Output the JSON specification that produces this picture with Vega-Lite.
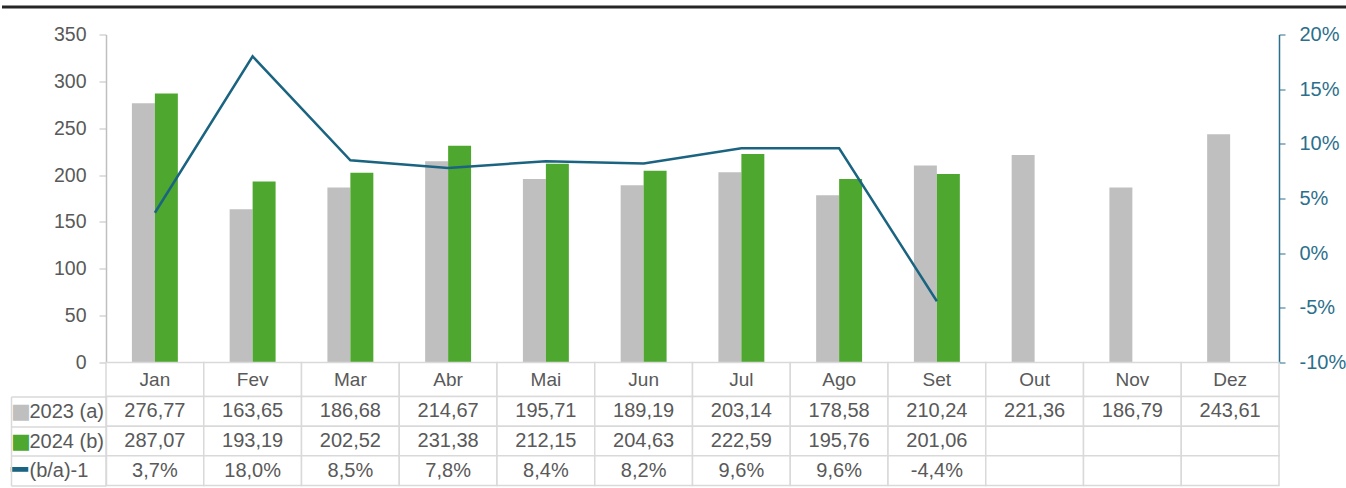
{
  "$schema": "https://vega.github.io/schema/vega-lite/v6.json",
  "padding": {"top": 4.5, "left": 0, "right": 0, "bottom": 0},
  "spacing": 0,
  "bounds": "flush",
  "datasets": {
    "months": [
      {"m": 1, "month": "Jan", "a": 276.77, "b": 287.07, "pct": 0.037},
      {"m": 2, "month": "Fev", "a": 163.65, "b": 193.19, "pct": 0.180},
      {"m": 3, "month": "Mar", "a": 186.68, "b": 202.52, "pct": 0.085},
      {"m": 4, "month": "Abr", "a": 214.67, "b": 231.38, "pct": 0.078},
      {"m": 5, "month": "Mai", "a": 195.71, "b": 212.15, "pct": 0.084},
      {"m": 6, "month": "Jun", "a": 189.19, "b": 204.63, "pct": 0.082},
      {"m": 7, "month": "Jul", "a": 203.14, "b": 222.59, "pct": 0.096},
      {"m": 8, "month": "Ago", "a": 178.58, "b": 195.76, "pct": 0.096},
      {"m": 9, "month": "Set", "a": 210.24, "b": 201.06, "pct": -0.044},
      {"m": 10, "month": "Out", "a": 221.36, "b": null, "pct": null},
      {"m": 11, "month": "Nov", "a": 186.79, "b": null, "pct": null},
      {"m": 12, "month": "Dez", "a": 243.61, "b": null, "pct": null}
    ]
  },
  "vconcat": [
    {
      "width": 1173,
      "height": 328,
      "layer": [
        {
          "data": {"name": "months"},
          "transform": [{"fold": ["a", "b"], "as": ["series", "value"]}],
          "mark": {"type": "bar"},
          "encoding": {
            "x": {"field": "month", "type": "nominal", "scale": {"domain": ["Jan","Fev","Mar","Abr","Mai","Jun","Jul","Ago","Set","Out","Nov","Dez"], "paddingInner": 0.53, "paddingOuter": 0.265}, "axis": null},
            "xOffset": {"field": "series", "type": "nominal", "scale": {"domain": ["a", "b"], "paddingInner": 0}},
            "y": {"field": "value", "type": "quantitative", "scale": {"domain": [0, 350], "nice": false},
              "axis": {"values": [0, 50, 100, 150, 200, 250, 300, 350], "title": null, "grid": false, "domainColor": "#bfbfbf", "domainWidth": 1.5, "tickColor": "#bfbfbf", "tickSize": 7, "labelPadding": 13, "labelColor": "#595959", "labelFontSize": 19.5, "labelFont": "Liberation Sans"}},
            "color": {"field": "series", "type": "nominal", "scale": {"domain": ["a", "b"], "range": ["#bfbfbf", "#4ea72e"]}, "legend": null}
          }
        },
        {
          "data": {"name": "months"},
          "transform": [{"filter": "datum.pct != null"}],
          "mark": {"type": "line", "color": "#1b6481", "strokeWidth": 2.5},
          "encoding": {
            "x": {"field": "month", "type": "nominal", "scale": {"type": "point", "padding": 0.5, "domain": ["Jan","Fev","Mar","Abr","Mai","Jun","Jul","Ago","Set","Out","Nov","Dez"]}, "axis": null},
            "y": {"field": "pct", "type": "quantitative", "scale": {"domain": [-0.1, 0.2], "nice": false},
              "axis": {"orient": "right", "values": [-0.1, -0.05, 0, 0.05, 0.1, 0.15, 0.2], "format": ".0%", "title": null, "grid": false, "domainColor": "#2b6f8c", "domainWidth": 1.5, "tickColor": "#2b6f8c", "tickSize": 6, "labelPadding": 14, "labelColor": "#2b6f8c", "labelFontSize": 20, "labelFont": "Liberation Sans"}},
            "order": {"field": "m", "type": "quantitative"}
          }
        },
        {
          "data": {"values": [{}]},
          "mark": {"type": "rule", "color": "#262626", "strokeWidth": 3},
          "encoding": {
            "x": {"datum": 0, "type": "quantitative", "scale": {"domain": [0.07681, 0.94313]}, "axis": null},
            "x2": {"datum": 1},
            "y": {"datum": 1, "type": "quantitative", "scale": {"domain": [0, 0.92264]}, "axis": null}
          }
        }
      ],
      "resolve": {"scale": {"x": "independent", "y": "independent"}, "axis": {"x": "independent", "y": "independent"}}
    },
    {
      "width": 1173,
      "height": 34,
      "data": {"name": "months"},
      "layer": [
        {
          "mark": {"type": "rect", "fill": "white", "stroke": "#d9d9d9", "strokeWidth": 1.5},
          "encoding": {
            "x": {"field": "month", "type": "nominal", "scale": {"domain": ["Jan","Fev","Mar","Abr","Mai","Jun","Jul","Ago","Set","Out","Nov","Dez"], "paddingInner": 0, "paddingOuter": 0}, "axis": null}
          }
        },
        {
          "mark": {"type": "text", "fontSize": 19, "color": "#595959", "font": "Liberation Sans"},
          "encoding": {
            "x": {"field": "month", "type": "nominal", "axis": null},
            "text": {"field": "month", "type": "nominal"}
          }
        }
      ]
    },
    {
      "width": 1173,
      "height": 89,
      "layer": [
        {
          "data": {"name": "months"},
          "layer": [
            {
              "transform": [{"fold": ["a", "b", "pct"], "as": ["key", "val"]}],
              "mark": {"type": "rect", "fill": "white", "stroke": "#d9d9d9", "strokeWidth": 1.5},
              "encoding": {
                "x": {"field": "month", "type": "nominal", "scale": {"domain": ["Jan","Fev","Mar","Abr","Mai","Jun","Jul","Ago","Set","Out","Nov","Dez"], "paddingInner": 0, "paddingOuter": 0}, "axis": null},
                "y": {"field": "key", "type": "nominal", "scale": {"domain": ["a", "b", "pct"], "paddingInner": 0, "paddingOuter": 0},
                  "axis": {"title": null, "labelExpr": "datum.value == 'a' ? '2023 (a)' : datum.value == 'b' ? '2024 (b)' : datum.value == 'pct' ? '(b/a)-1' : ''", "labelAlign": "left", "labelPadding": -18, "tickSize": 95, "tickBand": "extent", "tickColor": "#d9d9d9", "tickWidth": 1.5, "domainColor": "#d9d9d9", "domainWidth": 1.5, "labelFontSize": 20, "labelColor": "#595959", "labelFont": "Liberation Sans"}}
              }
            },
            {
              "mark": {"type": "text", "fontSize": 20, "color": "#595959", "font": "Liberation Sans"},
              "encoding": {
                "x": {"field": "month", "type": "nominal"},
                "y": {"datum": "a", "type": "nominal"},
                "text": {"field": "a", "type": "quantitative", "format": ".2f"}
              }
            },
            {
              "transform": [{"filter": "datum.b != null"}],
              "mark": {"type": "text", "fontSize": 20, "color": "#595959", "font": "Liberation Sans"},
              "encoding": {
                "x": {"field": "month", "type": "nominal"},
                "y": {"datum": "b", "type": "nominal"},
                "text": {"field": "b", "type": "quantitative", "format": ".2f"}
              }
            },
            {
              "transform": [{"filter": "datum.pct != null"}],
              "mark": {"type": "text", "fontSize": 20, "color": "#595959", "font": "Liberation Sans"},
              "encoding": {
                "x": {"field": "month", "type": "nominal"},
                "y": {"datum": "pct", "type": "nominal"},
                "text": {"field": "pct", "type": "quantitative", "format": ".1%"}
              }
            }
          ]
        },
        {
          "data": {"values": [{"key": "a"}, {"key": "b"}, {"key": "pct"}]},
          "mark": {"type": "point", "opacity": 0},
          "encoding": {
            "y": {"field": "key", "type": "nominal", "scale": {"domain": ["a", "b", "pct"], "paddingInner": 0, "paddingOuter": 0},
              "axis": {"orient": "left", "offset": 95, "title": null, "ticks": false, "labelExpr": "datum.value == 'pct' ? '━' : '■'", "labelAlign": "left", "labelPadding": 0.5, "labelFont": "DejaVu Sans",
                "labelFontSize": {"condition": {"test": "datum.value == 'pct'", "value": 28}, "value": 21},
                "labelColor": {"condition": [{"test": "datum.value == 'a'", "value": "#bfbfbf"}, {"test": "datum.value == 'b'", "value": "#4ea72e"}], "value": "#1b6481"},
                "domainColor": "#d9d9d9", "domainWidth": 1.5}}
          }
        }
      ],
      "resolve": {"scale": {"y": "independent"}, "axis": {"y": "independent"}}
    }
  ],
  "config": {
    "view": {"stroke": null},
    "font": "Liberation Sans",
    "axis": {"grid": false},
    "locale": {"number": {"decimal": ",", "thousands": ".", "grouping": [3], "currency": ["", ""], "minus": "-"}}
  }
}
